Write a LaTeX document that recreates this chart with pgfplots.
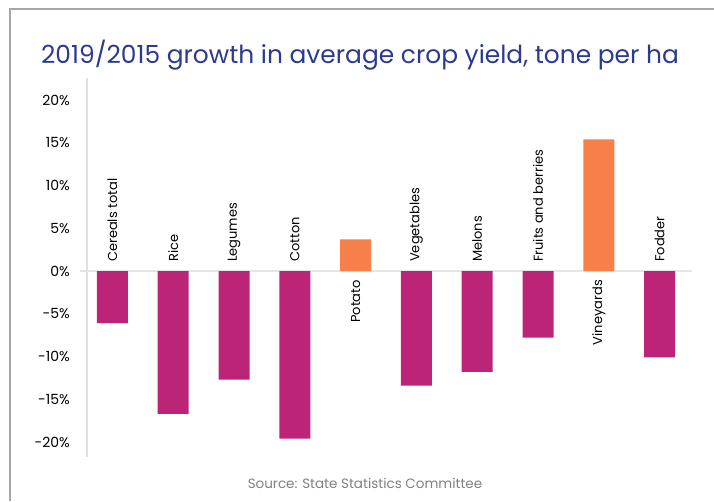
\documentclass[border=0pt]{standalone}
\usepackage{pgfplots}
\pgfplotsset{compat=1.18}
\usepackage{fontspec}
\setmainfont{Poppins}
\definecolor{mag}{HTML}{BC2478}
\definecolor{org}{HTML}{F7804A}
\definecolor{ttl}{HTML}{2B3990}
\begin{document}
\begin{tikzpicture}[x=1pt,y=1pt]
\useasboundingbox (0,0) rectangle (714,-501);
\draw[color=black!35, line width=1.5pt] (10,-501) -- (10,-9) -- (714,-9);
\node[anchor=base, text=ttl, inner sep=0pt, font=\fontsize{24.9}{28}\selectfont] at (360,-63) {2019/2015 growth in average crop yield, tone per ha};
\node[anchor=base, text=black!50, inner sep=0pt, font=\fontsize{13.5}{16}\selectfont] at (365,-488) {Source: State Statistics Committee};
\draw[black!12, line width=2pt] (87,-78) -- (87,-457);
\begin{axis}[
  at={(82pt,-459.1pt)}, anchor=south west,
  width=608pt, height=376.2pt, scale only axis,
  xmin=-0.5, xmax=9.5, ymin=-22, ymax=22,
  axis line style={draw=none},
  xtick=\empty,
  ytick={-20,-15,-10,-5,0,5,10,15,20},
  yticklabel={\pgfmathprintnumber{\tick}\%},
  /pgf/number format/assume math mode=true,
  yticklabel style={anchor=east, inner sep=0pt, xshift=-12pt, font=\fontsize{14}{16}\selectfont},
  major tick length=0pt,
  clip=false,
  ybar, bar width=31pt, bar shift=0pt,
]
\draw[black!10, line width=2pt] ([xshift=-2pt]axis cs:-0.5,0) -- ([xshift=2pt]axis cs:9.5,0);
\addplot[fill=mag, draw=none] coordinates {(0,-6.1) (1,-16.7) (2,-12.7) (3,-19.6) (5,-13.4) (6,-11.8) (7,-7.8) (9,-10.1)};
\addplot[fill=org, draw=none] coordinates {(4,3.7) (8,15.4)};
\foreach \i/\lab in {0/Cereals total,1/Rice,2/Legumes,3/Cotton,5/Vegetables,6/Melons,7/Fruits and berries,9/Fodder}{
  \edef\tmp{\noexpand\node[rotate=90, anchor=west, inner sep=0pt, font=\noexpand\fontsize{13}{15}\noexpand\selectfont] at ([yshift=9pt]axis cs:\i,0) {\lab};}
  \tmp
}
\foreach \i/\lab in {4/Potato,8/Vineyards}{
  \edef\tmp{\noexpand\node[rotate=90, anchor=east, inner sep=0pt, font=\noexpand\fontsize{13}{15}\noexpand\selectfont] at ([yshift=-9pt]axis cs:\i,0) {\lab};}
  \tmp
}
\end{axis}
\end{tikzpicture}
\end{document}
